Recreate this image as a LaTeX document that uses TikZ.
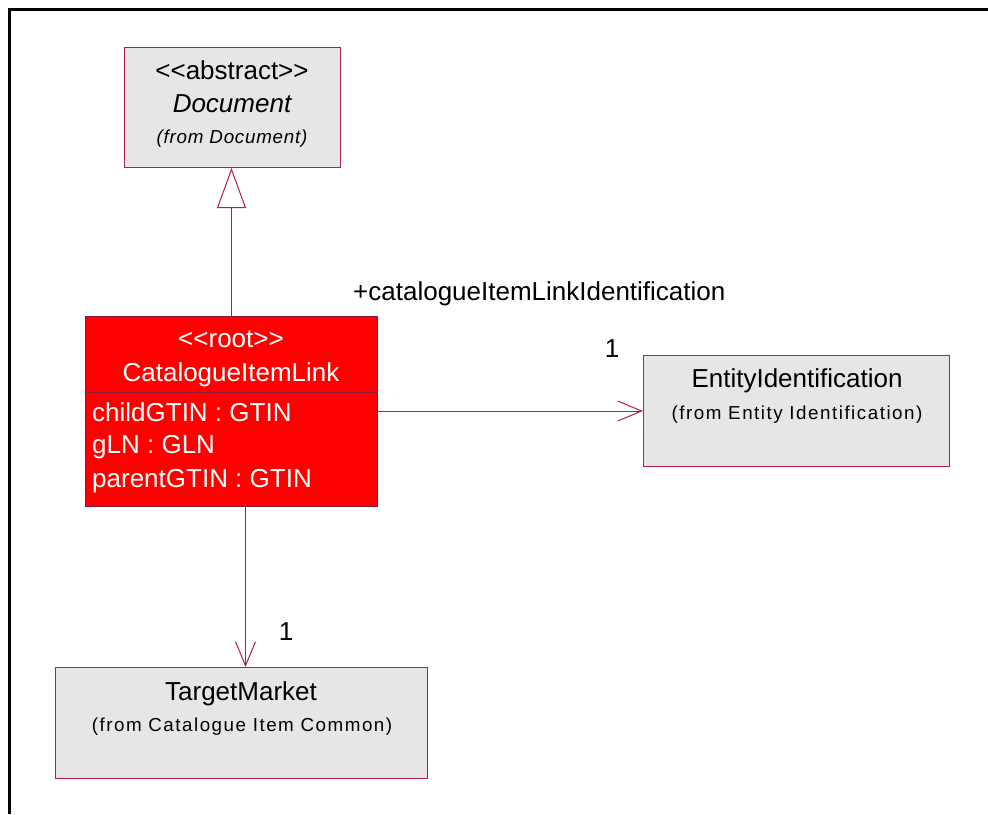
\documentclass[tikz,border=0pt]{standalone}
\usepackage{fontspec}
\setmainfont{Liberation Sans}
\definecolor{umlborder}{RGB}{176, 30, 80}
\definecolor{umlgray}{RGB}{230, 230, 230}
\definecolor{rootred}{RGB}{255, 0, 0}
\usetikzlibrary{arrows.meta, positioning, calc}
\newcommand{\umlstereo}[1]{<\kern0pt<#1>\kern0pt>}
\tikzset{
  classbox/.style={draw=umlborder, fill=umlgray, line width=1pt, anchor=north west, inner sep=0pt},
  rootbox/.style={classbox, fill=rootred, draw=umlborder!80!black},
  classname/.style={font=\fontsize{26}{30}\selectfont, anchor=base, inner sep=0pt},
  fromname/.style={font=\fontsize{18.8}{22}\selectfont\addfontfeatures{LetterSpace=8}, anchor=base, inner sep=0pt},
  attrname/.style={classname, anchor=base west, text=white},
  umlline/.style={draw=umlborder, line width=1pt}
}

\begin{document}
\begin{tikzpicture}[x=1pt, y=-1pt]
  \useasboundingbox (0,0) rectangle (988,814);

  % Frame
  \draw[line width=2.7pt] (9.7,814) -- (9.7,9.7) -- (988,9.7);

  % Abstract parent
  \node[classbox, minimum width=216pt, minimum height=120pt] (doc) at (124,47) {};
  \node[classname] (docstereo) at (232,79) {\umlstereo{abstract}};
  \node[classname, font=\fontsize{26}{30}\selectfont\itshape] (docname) at (232,112) {Document};
  \node[fromname, font=\fontsize{18.8}{22}\selectfont\itshape\addfontfeatures{LetterSpace=4}] (docfrom) at (232,143) {(from Document)};

  % Root class
  \node[rootbox, minimum width=292pt, minimum height=76pt] (clink) at (85,316) {};
  \node[rootbox, minimum width=292pt, minimum height=114pt] (clinkattr) at (85,392) {};
  \node[classname, text=white] (clinkstereo) at (231,347) {\umlstereo{root}};
  \node[classname, text=white] (clinkname) at (231,381) {CatalogueItemLink};
  \node[attrname] (attrchild) at (92,421) {childGTIN : GTIN};
  \node[attrname] (attrgln) at (92,453) {gLN : GLN};
  \node[attrname] (attrparent) at (92,487) {parentGTIN : GTIN};

  % Entity identification
  \node[classbox, minimum width=306pt, minimum height=111pt] (entity) at (643,355) {};
  \node[classname] (entityname) at (797,387) {EntityIdentification};
  \node[fromname] (entityfrom) at (797,419) {(from Entity Identification)};

  % Target market
  \node[classbox, minimum width=372pt, minimum height=111pt] (target) at (55,667) {};
  \node[classname] (targetname) at (241,700) {TargetMarket};
  \node[fromname] (targetfrom) at (242,731) {(from Catalogue Item Common)};

  % Generalization
  \draw[umlline, -{Triangle[open, length=40pt, width=29pt, fill=white]}] (clink.north) -- (clink.north |- doc.south);

  % Associations
  \draw[umlline, -{Straight Barb[length=24pt, width=20pt]}] (entity.west -| clinkattr.east) -- (entity.west);
  \node[classname, anchor=base west] (linklabel) at (353,300) {+catalogueItemLinkIdentification};
  \node[classname] (entitymult) at (612,357) {1};

  \draw[umlline, -{Straight Barb[length=24pt, width=20pt]}] ([xshift=14pt]clinkattr.south) -- ([xshift=14pt]clinkattr.south |- target.north);
  \node[classname] (targetmult) at (286,640) {1};
\end{tikzpicture}
\end{document}
